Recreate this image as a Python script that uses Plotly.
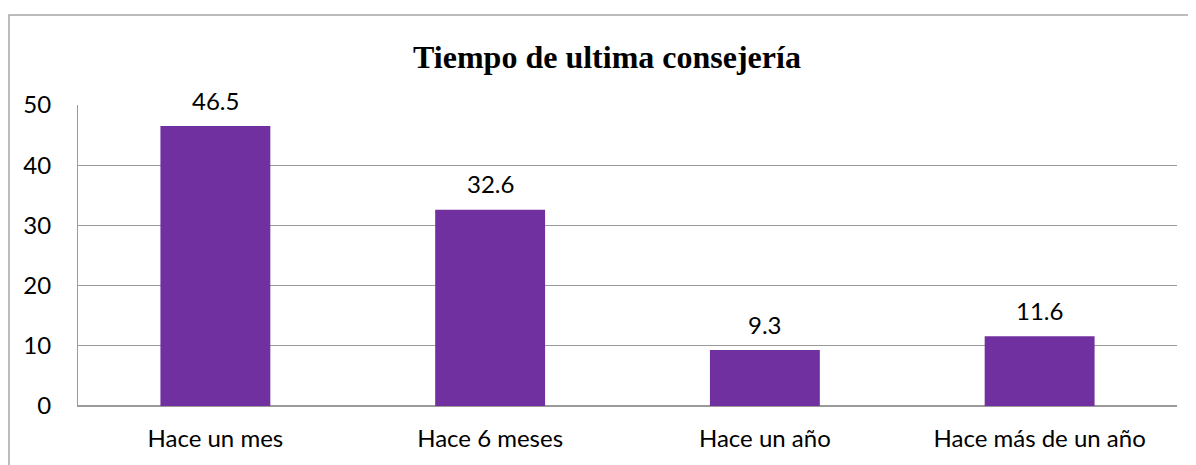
import plotly.graph_objects as go

categories = ["Hace un mes", "Hace 6 meses", "Hace un año", "Hace más de un año"]
values = [46.5, 32.6, 9.3, 11.6]
labels = ["46.5", "32.6", "9.3", "11.6"]
title = "Tiempo de ultima consejería"

# page body has an 8px margin; figure is sized to fit the window
W, H = 1188, 457
ml, mr, mt, mb = 70, 19, 97, 59
pw = W - ml - mr
ph = H - mt - mb

FONT = "Lato, Open Sans, sans-serif"

fig = go.Figure(go.Bar(
    x=categories, y=values,
    marker=dict(color="#7030A0", line=dict(width=0)),
    cliponaxis=False,
))

for c, v, t in zip(categories, values, labels):
    fig.add_annotation(x=c, y=v, text=t, showarrow=False, yanchor="middle", yshift=26,
                       font=dict(family=FONT, size=24, color="#000000"))

grid = "#9a9a9a"
fig.update_layout(
    width=W, height=H,
    margin=dict(l=ml, r=mr, t=mt, b=mb),
    paper_bgcolor="white", plot_bgcolor="white",
    bargap=0.6,
    showlegend=False,
    title=dict(text="<b>" + title + "</b>", x=599 / W, xanchor="center",
               y=1 - 49 / H, yanchor="middle",
               font=dict(family="Liberation Serif, Times New Roman, serif", size=32, color="#000000")),
    font=dict(family=FONT, size=24, color="#000000"),
    xaxis=dict(showline=True, linecolor=grid, linewidth=1, ticks="", showgrid=False,
               tickfont=dict(size=24)),
    yaxis=dict(range=[0, 50], dtick=10, showline=True, linecolor=grid, linewidth=1,
               gridcolor=grid, gridwidth=1, zeroline=True, zerolinecolor=grid,
               ticks="", ticklen=0, tickfont=dict(size=24)),
)
fig.update_yaxes(ticklabelstandoff=21)
fig.update_xaxes(ticklabelstandoff=11)

fig.add_shape(type="rect", xref="paper", yref="paper",
              x0=(1 - ml) / pw, x1=1.2, y0=-0.6, y1=(H - mb - 7) / ph,
              line=dict(color="#a6a6a6", width=1.5), fillcolor="rgba(0,0,0,0)", layer="below")

fig.write_html("out.html")
